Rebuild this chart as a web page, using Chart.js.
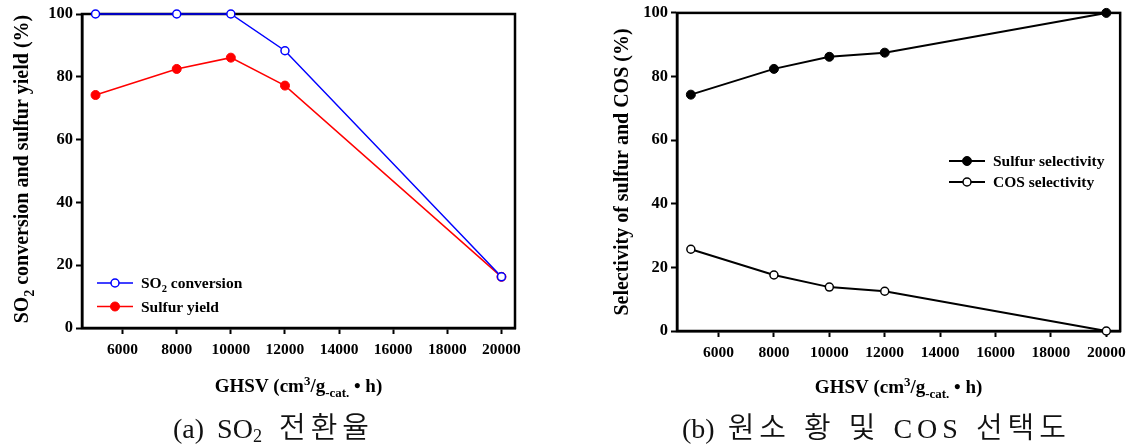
<!DOCTYPE html>
<html>
<head>
<meta charset="UTF-8">
<title>GHSV</title>
<script src="https://cdn.jsdelivr.net/npm/chart.js"></script>
<style>
    body {
        margin: 0;
        background: #fff;
        width: 1133px;
        height: 448px;
        position: relative;
        overflow: hidden;
    }
    .box {
        position: absolute;
        top: 0;
        height: 448px;
    }
    #boxA { left: 0; width: 560px; }
    #boxB { left: 560px; width: 573px; }
    .caption {
        position: absolute;
        top: 411px;
        font-family: "Liberation Serif", "Noto Sans CJK KR", serif;
        font-size: 28px;
        white-space: pre;
        word-spacing: 6px;
        color: #111;
        line-height: 1;
    }
    .caption sub {
        font-size: 65%;
        vertical-align: -0.2em;
        line-height: 0;
    }
    .caption .ko {
        font-family: "Noto Sans CJK KR", sans-serif;
        font-size: 29px;
        letter-spacing: 5px;
        font-weight: 350;
    }
</style>
</head>
<body>
<div class="box" id="boxA"><canvas id="chartA" width="560" height="448"></canvas></div>
<div class="box" id="boxB"><canvas id="chartB" width="573" height="448"></canvas></div>
<div class="caption" style="left:173px">(a) SO<sub>2</sub><span style="word-spacing:10px"> </span><span class="ko">전환율</span></div>
<div class="caption" style="left:682px">(b) <span class="ko">원소</span> <span class="ko">황</span> <span class="ko">및</span> <span style="letter-spacing:5px">COS</span> <span class="ko">선택도</span></div>

<script>
    // data
    const ghsv = [5000, 8000, 10000, 12000, 20000];
    const so2Conversion = [100, 100, 100, 88.3, 16.3];
    const sulfurYield = [74.2, 82.5, 86.1, 77.2, 16.3];
    const sulfurSelectivity = [74.3, 82.4, 86.2, 87.5, 100];
    const cosSelectivity = [25.7, 17.6, 13.8, 12.5, 0];
    const xTicks = [6000, 8000, 10000, 12000, 14000, 16000, 18000, 20000];
    const yTicks = [0, 20, 40, 60, 80, 100];

    const serif = '"Liberation Serif", "Times New Roman", serif';

    function points(ys) {
        return ghsv.map((x, i) => ({ x: x, y: ys[i] }));
    }

    // text with sub/superscript pieces: [text, 'sub'|'sup'|undefined]
    function drawRich(ctx, parts, x, y, size, align) {
        let w = 0;
        parts.forEach(p => {
            ctx.font = 'bold ' + (p[1] ? size * 0.68 : size) + 'px ' + serif;
            w += ctx.measureText(p[0]).width;
        });
        let cx = align === 'center' ? x - w / 2 : x;
        ctx.textAlign = 'left';
        ctx.textBaseline = 'alphabetic';
        ctx.fillStyle = '#000';
        parts.forEach(p => {
            const s = p[1] ? size * 0.68 : size;
            ctx.font = 'bold ' + s + 'px ' + serif;
            const dy = p[1] === 'sub' ? size * 0.28 : (p[1] === 'sup' ? -size * 0.38 : 0);
            ctx.fillText(p[0], cx, y + dy);
            cx += ctx.measureText(p[0]).width;
        });
    }

    const xTitle = [['GHSV (cm'], ['3', 'sup'], ['/g'], ['-cat.', 'sub'], [' \u2022 h)']];

    // frame, axis titles and legend
    const decor = {
        id: 'decor',
        beforeDatasetsDraw(chart) {
            const a = chart.chartArea;
            const ctx = chart.ctx;
            ctx.save();
            ctx.strokeStyle = '#000';
            ctx.lineWidth = 2.5;
            ctx.strokeRect(a.left, a.top, a.right - a.left, a.bottom - a.top);
            ctx.restore();
        },
        afterDraw(chart, args, opts) {
            const ctx = chart.ctx;
            const a = chart.chartArea;
            ctx.save();
            drawRich(ctx, xTitle, (a.left + a.right) / 2, opts.xTitleY, 19, 'center');
            ctx.translate(opts.yTitleX, opts.yTitleY);
            ctx.rotate(-Math.PI / 2);
            drawRich(ctx, opts.yTitle, 0, 0, 20, 'center');
            ctx.restore();

            ctx.save();
            chart.data.datasets.forEach((ds, i) => {
                const y = opts.legendY + i * opts.legendGap;
                const x = opts.legendX;
                ctx.strokeStyle = ds.borderColor;
                ctx.lineWidth = ds.borderWidth;
                ctx.beginPath();
                ctx.moveTo(x, y);
                ctx.lineTo(x + 36, y);
                ctx.stroke();
                ctx.beginPath();
                ctx.arc(x + 18, y, ds.pointRadius, 0, Math.PI * 2);
                ctx.fillStyle = ds.pointBackgroundColor;
                ctx.fill();
                ctx.lineWidth = ds.pointBorderWidth;
                ctx.strokeStyle = ds.pointBorderColor;
                ctx.stroke();
                drawRich(ctx, ds.legendParts, x + 44, y + 5, 15.5, 'left');
            });
            ctx.restore();
        }
    };

    function makeScales(yWidth) {
        return {
            x: {
                type: 'linear',
                min: 4500,
                max: 20500,
                afterBuildTicks: s => { s.ticks = xTicks.map(v => ({ value: v })); },
                afterFit: s => { s.height = 40; },
                grid: { display: true, drawOnChartArea: false, drawTicks: true, tickLength: 6, tickColor: '#000', tickWidth: 2 },
                border: { display: true, color: '#000', width: 2.5 },
                ticks: { color: '#000', font: { family: serif, size: 15.5, weight: 'bold' }, padding: 7, maxRotation: 0, autoSkip: false, callback: v => String(v) }
            },
            y: {
                min: 0,
                max: 100,
                afterBuildTicks: s => { s.ticks = yTicks.map(v => ({ value: v })); },
                afterFit: s => { s.width = yWidth; },
                grid: { display: true, drawOnChartArea: false, drawTicks: true, tickLength: 6, tickColor: '#000', tickWidth: 2 },
                border: { display: true, color: '#000', width: 2.5 },
                ticks: { color: '#000', font: { family: serif, size: 16.5, weight: 'bold' }, padding: 3, autoSkip: false, callback: v => String(v) }
            }
        };
    }

    // (a) SO2 conversion
    new Chart(document.getElementById('chartA'), {
        type: 'line',
        data: {
            datasets: [{
                label: 'SO2 conversion',
                legendParts: [['SO'], ['2', 'sub'], [' conversion']],
                data: points(so2Conversion),
                borderColor: '#0000ff',
                borderWidth: 1.5,
                pointRadius: 4,
                pointBorderWidth: 1.5,
                pointBackgroundColor: '#fff',
                pointBorderColor: '#0000ff',
                clip: false
            }, {
                label: 'Sulfur yield',
                legendParts: [['Sulfur yield']],
                data: points(sulfurYield),
                borderColor: '#ff0000',
                borderWidth: 1.5,
                pointRadius: 4.5,
                pointBorderWidth: 1,
                pointBackgroundColor: '#ff0000',
                pointBorderColor: '#ff0000',
                clip: false
            }]
        },
        options: {
            responsive: false,
            animation: false,
            events: [],
            layout: { padding: { left: 0, right: 45, top: 14, bottom: 80 } },
            scales: makeScales(82),
            plugins: {
                legend: { display: false },
                tooltip: { enabled: false },
                decor: {
                    xTitleY: 392,
                    yTitle: [['SO'], ['2', 'sub'], [' conversion and sulfur yield (%)']],
                    yTitleX: 28,
                    yTitleY: 169,
                    legendX: 97,
                    legendY: 283,
                    legendGap: 23.5
                }
            }
        },
        plugins: [decor]
    });

    // (b) selectivity
    new Chart(document.getElementById('chartB'), {
        type: 'line',
        data: {
            datasets: [{
                label: 'Sulfur selectivity',
                legendParts: [['Sulfur selectivity']],
                data: points(sulfurSelectivity),
                borderColor: '#000',
                borderWidth: 2,
                pointRadius: 4.5,
                pointBorderWidth: 1,
                pointBackgroundColor: '#000',
                pointBorderColor: '#000',
                clip: false
            }, {
                label: 'COS selectivity',
                legendParts: [['COS selectivity']],
                data: points(cosSelectivity),
                borderColor: '#000',
                borderWidth: 2,
                pointRadius: 4,
                pointBorderWidth: 1.5,
                pointBackgroundColor: '#fff',
                pointBorderColor: '#000',
                clip: false
            }]
        },
        options: {
            responsive: false,
            animation: false,
            events: [],
            layout: { padding: { left: 0, right: 10, top: 11, bottom: 77 } },
            scales: makeScales(117),
            plugins: {
                legend: { display: false },
                tooltip: { enabled: false },
                decor: {
                    xTitleY: 393,
                    yTitle: [['Selectivity of sulfur and COS (%)']],
                    yTitleX: 68,
                    yTitleY: 172,
                    legendX: 389,
                    legendY: 161,
                    legendGap: 21
                }
            }
        },
        plugins: [decor]
    });
</script>
</body>
</html>
